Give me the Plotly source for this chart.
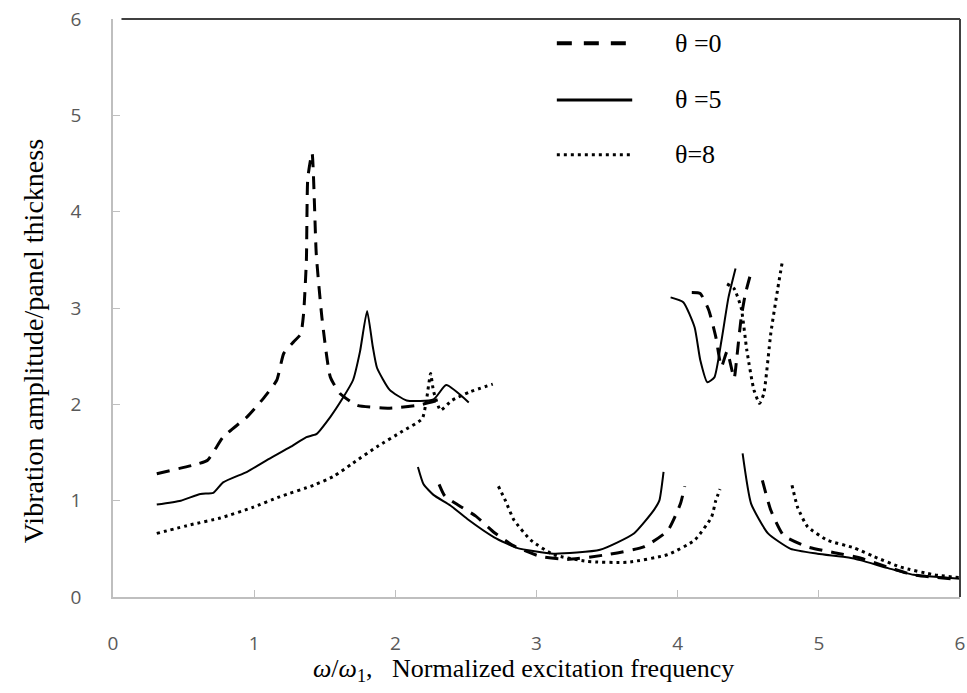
import plotly.graph_objects as go

# ---------------- data ----------------
# theta = 0 (dashed): branches separated by None
x0 = [0.31, 0.57, 0.67, 0.78, 0.95, 1.07, 1.16, 1.21, 1.28, 1.33, 1.35, 1.37, 1.38, 1.41,
      1.44, 1.48, 1.54, 1.61, 1.73, 1.96, 2.16, 2.30, None,
      2.31, 2.35, 2.45, 2.57, 2.70, 2.84, 3.03, 3.22, 3.50, 3.76, 3.93, 4.02, 4.05, None,
      4.10, 4.16, 4.22, 4.27, 4.31, 4.35, 4.40, 4.42, 4.45, 4.48, 4.52, None,
      4.60, 4.66, 4.75, 4.92, 5.11, 5.28, 5.49, 5.67, 6.00]
y0 = [1.28, 1.37, 1.42, 1.66, 1.87, 2.07, 2.25, 2.53, 2.65, 2.73, 2.94, 3.50, 4.35, 4.61,
      3.56, 2.90, 2.28, 2.11, 1.99, 1.96, 1.99, 2.04, None,
      1.17, 1.05, 0.95, 0.84, 0.67, 0.53, 0.42, 0.39, 0.44, 0.52, 0.69, 0.97, 1.15, None,
      3.16, 3.15, 2.98, 2.70, 2.39, 2.55, 2.27, 2.50, 2.90, 3.15, 3.37, None,
      1.21, 0.90, 0.64, 0.52, 0.46, 0.41, 0.31, 0.23, 0.18]

# theta = 5 (solid)
x5 = [0.31, 0.48, 0.62, 0.71, 0.78, 0.95, 1.09, 1.26, 1.37, 1.44, 1.54, 1.63, 1.70, 1.75, 1.80,
      1.84, 1.87, 1.96, 2.08, 2.27, 2.36, 2.52, None,
      2.16, 2.20, 2.27, 2.39, 2.51, 2.70, 2.86, 3.12, 3.45, 3.69, 3.83, 3.87, 3.90, None,
      3.95, 4.04, 4.12, 4.16, 4.21, 4.26, 4.31, 4.36, 4.41, None,
      4.46, 4.52, 4.64, 4.80, 4.99, 5.21, 5.30, 5.49, 5.67, 6.00]
y5 = [0.96, 1.00, 1.07, 1.08, 1.19, 1.30, 1.42, 1.56, 1.66, 1.69, 1.87, 2.07, 2.25, 2.55, 2.97,
      2.60, 2.38, 2.15, 2.04, 2.05, 2.20, 2.02, None,
      1.35, 1.17, 1.06, 0.95, 0.81, 0.62, 0.51, 0.45, 0.49, 0.66, 0.90, 1.00, 1.30, None,
      3.11, 3.06, 2.80, 2.46, 2.23, 2.28, 2.66, 3.11, 3.41, None,
      1.49, 0.97, 0.66, 0.50, 0.45, 0.41, 0.38, 0.30, 0.23, 0.19]

# theta = 8 (dotted)
x8 = [0.31, 0.55, 0.76, 0.99, 1.18, 1.42, 1.56, 1.70, 1.87, 2.05, 2.19, 2.22, 2.25, 2.27, 2.32,
      2.40, 2.53, 2.69, None,
      2.73, 2.78, 2.84, 2.96, 3.12, 3.36, 3.64, 3.93, 4.12, 4.24, 4.27, 4.30, None,
      4.35, 4.40, 4.45, 4.49, 4.54, 4.58, 4.61, 4.66, 4.71, 4.74, None,
      4.81, 4.85, 4.92, 5.06, 5.25, 5.39, 5.58, 5.82, 6.00]
y8 = [0.66, 0.75, 0.82, 0.93, 1.04, 1.16, 1.25, 1.39, 1.56, 1.72, 1.85, 2.04, 2.32, 2.14, 1.94,
      2.04, 2.13, 2.21, None,
      1.15, 1.00, 0.80, 0.59, 0.44, 0.37, 0.36, 0.44, 0.59, 0.83, 1.00, 1.12, None,
      3.25, 3.20, 3.00, 2.56, 2.15, 2.01, 2.11, 2.74, 3.21, 3.47, None,
      1.16, 0.93, 0.73, 0.59, 0.51, 0.42, 0.31, 0.23, 0.20]

series_names = ["\u03b8 =0", "\u03b8 =5", "\u03b8=8"]
x_ticks = [0, 1, 2, 3, 4, 5, 6]
y_ticks = [0, 1, 2, 3, 4, 5, 6]
x_title = "<i>\u03c9</i>/<i>\u03c9</i><sub>1</sub>,\u00a0\u00a0\u00a0Normalized excitation frequency"
y_title = "Vibration amplitude/panel thickness"

# ---------------- figure ----------------
fig = go.Figure()
styles = [dict(dash="13px,9px", width=3),
          dict(dash="solid", width=2),
          dict(dash="3px,4px", width=3)]
legend_dash = ["15px,12px", "solid", "3px,4px"]
legend_width = [4, 3, 3]
series = [(x0, y0), (x5, y5), (x8, y8)]
for i, (xs, ys) in enumerate(series):
    fig.add_trace(go.Scatter(
        x=xs, y=ys, mode="lines", name=series_names[i], showlegend=False,
        connectgaps=False,
        line=dict(color="black", shape="spline", smoothing=0.5, **styles[i]),
    ))

serif = "Liberation Serif, Times New Roman, serif"

# hand-drawn legend (sample line + label) in the upper right
leg_y = [0.958, 0.860, 0.765]
for i, name in enumerate(series_names):
    fig.add_shape(type="line", xref="paper", yref="paper",
                  x0=0.524, x1=0.613, y0=leg_y[i], y1=leg_y[i],
                  line=dict(color="black", width=legend_width[i], dash=legend_dash[i]))
    fig.add_annotation(xref="paper", yref="paper", x=0.661, y=leg_y[i],
                       xanchor="left", yanchor="middle", showarrow=False, text=name,
                       font=dict(family=serif, size=26, color="black"))

# axis titles
fig.add_annotation(xref="paper", yref="paper", x=0.485, y=-0.126,
                   xanchor="center", yanchor="middle", showarrow=False, text=x_title,
                   font=dict(family=serif, size=26, color="black"))
fig.add_annotation(xref="paper", yref="paper", x=-0.093, y=0.443, textangle=-90,
                   xanchor="center", yanchor="middle", showarrow=False, text=y_title,
                   font=dict(family=serif, size=28, color="black"))

axis_col = "#bfbfbf"
tick_font = dict(family="Open Sans, Noto Sans, sans-serif", size=19, color="#595959")
fig.update_xaxes(range=[0, 6], tickvals=x_ticks, showgrid=False, zeroline=False,
                 showline=True, linecolor=axis_col, linewidth=1.5, automargin=False,
                 ticks="inside", ticklen=7, tickcolor=axis_col,
                 tickfont=tick_font, ticklabelstandoff=28)
fig.update_yaxes(range=[0, 6], tickvals=y_ticks, showgrid=False, zeroline=False,
                 showline=True, linecolor=axis_col, linewidth=1.5, automargin=False,
                 ticks="inside", ticklen=7, tickcolor=axis_col,
                 tickfont=tick_font, ticklabelstandoff=26)

# top and right frame lines
fig.add_shape(type="line", xref="paper", yref="paper", x0=0.01, x1=1, y0=1, y1=1,
              line=dict(color="#404040", width=2))
fig.add_shape(type="line", xref="paper", yref="paper", x0=1, x1=1, y0=0, y1=1,
              line=dict(color="#404040", width=2))

fig.update_layout(
    width=967, height=693,
    margin=dict(l=113, r=7, t=19, b=96),
    paper_bgcolor="white", plot_bgcolor="white",
    showlegend=False,
)

fig.write_html("out.html")
